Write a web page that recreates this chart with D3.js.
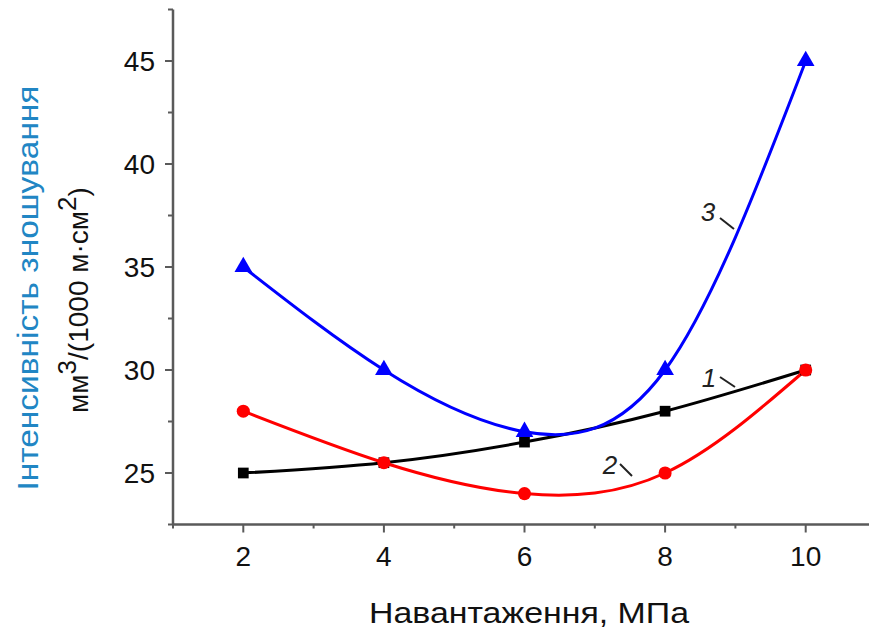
<!DOCTYPE html>
<html>
<head>
<meta charset="utf-8">
<script src="https://cdn.jsdelivr.net/npm/d3@7"></script>
<style>
  html, body { margin: 0; padding: 0; background: #fff; }
  svg { display: block; font-family: Arial, "Liberation Sans", sans-serif; }
</style>
</head>
<body>
<svg id="chart" width="869" height="632"></svg>
<script>
// Load (MPa) and wear intensity for three materials
const loads = [2, 4, 6, 8, 10];
const series1 = [25, 25.5, 26.5, 28, 30];
const series2 = [28, 25.5, 24, 25, 30];
const series3 = [35, 30, 27, 30, 45];

const xTicks = [2, 4, 6, 8, 10];
const yTicks = [25, 30, 35, 40, 45];

const svg = d3.select("#chart");
const x = d3.scaleLinear().domain([1, 11]).range([173, 876]);
const y = d3.scaleLinear().domain([22.5, 47.5]).range([524.5, 9.5]);

const axisColor = "#5a5a5a";

// minor ticks
const xMinor = d3.range(1, 11.01, 1).filter(v => !xTicks.includes(v));
const yMinor = d3.range(22.5, 47.6, 2.5).filter(v => !yTicks.includes(v));

const gx = svg.append("g");
gx.append("line").attr("x1", x(1)).attr("x2", 869).attr("y1", y(22.5)).attr("y2", y(22.5))
  .attr("stroke", axisColor).attr("stroke-width", 2.5);
gx.selectAll(".maj").data(xTicks).join("line")
  .attr("x1", d => x(d)).attr("x2", d => x(d))
  .attr("y1", y(22.5)).attr("y2", y(22.5) + 8)
  .attr("stroke", axisColor).attr("stroke-width", 2);
gx.selectAll(".min").data(xMinor).join("line")
  .attr("x1", d => x(d)).attr("x2", d => x(d))
  .attr("y1", y(22.5)).attr("y2", y(22.5) + 4)
  .attr("stroke", axisColor).attr("stroke-width", 2);
gx.selectAll("text").data(xTicks).join("text")
  .attr("x", d => x(d)).attr("y", 566)
  .attr("text-anchor", "middle").attr("font-size", 28).attr("fill", "#111")
  .text(d => d);

const gy = svg.append("g");
gy.append("line").attr("x1", x(1)).attr("x2", x(1)).attr("y1", y(22.5)).attr("y2", y(47.5))
  .attr("stroke", axisColor).attr("stroke-width", 2.5);
gy.selectAll(".maj").data(yTicks).join("line")
  .attr("x1", x(1) - 8).attr("x2", x(1))
  .attr("y1", d => y(d)).attr("y2", d => y(d))
  .attr("stroke", axisColor).attr("stroke-width", 2);
gy.selectAll(".min").data(yMinor).join("line")
  .attr("x1", x(1) - 5).attr("x2", x(1))
  .attr("y1", d => y(d)).attr("y2", d => y(d))
  .attr("stroke", axisColor).attr("stroke-width", 2);
gy.selectAll("text").data(yTicks).join("text")
  .attr("x", 155).attr("y", d => y(d) + 10)
  .attr("text-anchor", "end").attr("font-size", 28).attr("fill", "#111")
  .text(d => d);

// axis titles
svg.append("text").attr("x", 529).attr("y", 623)
  .attr("text-anchor", "middle").attr("font-size", 29).attr("fill", "#111")
  .attr("textLength", 320).attr("lengthAdjust", "spacingAndGlyphs")
  .text("Навантаження, МПа");

svg.append("text")
  .attr("transform", "translate(38,288) rotate(-90)")
  .attr("text-anchor", "middle").attr("font-size", 29).attr("fill", "#2186c4")
  .attr("textLength", 405).attr("lengthAdjust", "spacingAndGlyphs")
  .text("Інтенсивність зношування");

const t2 = svg.append("text")
  .attr("transform", "translate(88,300) rotate(-90)")
  .attr("text-anchor", "middle").attr("font-size", 28).attr("fill", "#111");
t2.append("tspan").text("мм");
t2.append("tspan").attr("dy", -12).attr("font-size", 26).text("3");
t2.append("tspan").attr("dy", 12).text("/(1000 м·см");
t2.append("tspan").attr("dy", -12).attr("font-size", 26).text("2");
t2.append("tspan").attr("dy", 12).text(")");

// curves
const line = d3.line().x(d => x(d[0])).y(d => y(d[1])).curve(d3.curveNatural);
const defs = [
  { vals: series1, color: "#000000", marker: "square" },
  { vals: series3, color: "#0000ff", marker: "triangle" },
  { vals: series2, color: "#ff0000", marker: "circle" }
];
defs.forEach(s => {
  const pts = loads.map((l, i) => [l, s.vals[i]]);
  svg.append("path").attr("d", line(pts)).attr("fill", "none")
    .attr("stroke", s.color).attr("stroke-width", 3);
});
defs.forEach(s => {
  const pts = loads.map((l, i) => [l, s.vals[i]]);
  const sym = s.marker === "square" ? d3.symbolSquare : s.marker === "triangle" ? d3.symbolTriangle : d3.symbolCircle;
  const size = s.marker === "square" ? 115 : s.marker === "triangle" ? 135 : 135;
  svg.append("g").selectAll("path").data(pts).join("path")
    .attr("transform", d => `translate(${x(d[0])},${y(d[1])})`)
    .attr("d", d3.symbol().type(sym).size(size))
    .attr("fill", s.color);
});

// curve labels with leader lines
const labels = [
  { t: "1", lx: 709, ly: 387, x1: 720, y1: 377, x2: 735, y2: 387 },
  { t: "2", lx: 610, ly: 474, x1: 620, y1: 464, x2: 632, y2: 476 },
  { t: "3", lx: 708, ly: 221, x1: 720, y1: 218, x2: 734, y2: 229 }
];
labels.forEach(l => {
  svg.append("text").attr("x", l.lx).attr("y", l.ly).attr("text-anchor", "middle")
    .attr("font-size", 26).attr("font-style", "italic").attr("fill", "#222").text(l.t);
  svg.append("line").attr("x1", l.x1).attr("y1", l.y1).attr("x2", l.x2).attr("y2", l.y2)
    .attr("stroke", "#222").attr("stroke-width", 2);
});
</script>
</body>
</html>
